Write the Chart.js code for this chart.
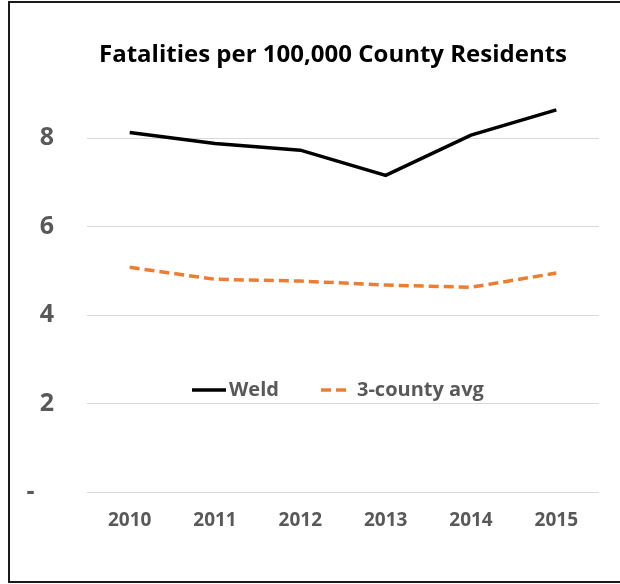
<!DOCTYPE html>
<html>
<head>
<meta charset="utf-8">
<script src="https://cdn.jsdelivr.net/npm/chart.js@4/dist/chart.umd.min.js"></script>
<style>
  html, body { margin: 0; padding: 0; background: #fff; }
  #wrap { position: relative; width: 620px; height: 584px; overflow: hidden; }
  #frame {
    position: absolute; left: 8px; top: 1px; width: 640px; height: 578px;
    border: 2px solid #1a1a1a; pointer-events: none;
  }
  canvas { position: absolute; left: 0; top: 0; }
</style>
</head>
<body>
<div id="wrap">
  <canvas id="chart" width="620" height="584"></canvas>
  <div id="frame"></div>
</div>
<script>
// Chart data
const years = ['2010', '2011', '2012', '2013', '2014', '2015'];
const weld = [8.13, 7.88, 7.73, 7.16, 8.07, 8.64];
const countyAvg = [5.08, 4.81, 4.77, 4.68, 4.63, 4.95];
const yTicks = [0, 2, 4, 6, 8];

const chartTitle = 'Fatalities per 100,000 County Residents';
const FONT = '"Open Sans", Lato, sans-serif';
const LABEL_GRAY = '#595959';

/**
 * Title and in-plot legend, drawn the way the spreadsheet lays them out
 */
const decorPlugin = {
    id: 'decor',
    afterDraw(chart) {
        const ctx = chart.ctx;
        ctx.save();

        // Title
        ctx.fillStyle = '#000';
        ctx.font = `bold 24px ${FONT}`;
        ctx.textAlign = 'center';
        ctx.textBaseline = 'alphabetic';
        ctx.fillText(chartTitle, 333, 62);

        // Legend, sitting inside the plot above the "2" gridline
        const legendY = 390;
        ctx.font = `bold 20px ${FONT}`;
        ctx.textAlign = 'left';
        ctx.textBaseline = 'middle';
        const items = [
            { ds: chart.data.datasets[0], x0: 192, x1: 226, tx: 229 },
            { ds: chart.data.datasets[1], x0: 321, x1: 348, tx: 357 }
        ];
        items.forEach(item => {
            ctx.beginPath();
            ctx.strokeStyle = item.ds.borderColor;
            ctx.lineWidth = item.ds.borderWidth;
            ctx.setLineDash(item.ds.borderDash || []);
            ctx.moveTo(item.x0, legendY);
            ctx.lineTo(item.x1, legendY);
            ctx.stroke();
            ctx.setLineDash([]);
            ctx.fillStyle = LABEL_GRAY;
            ctx.fillText(item.ds.label, item.tx, legendY);
        });

        ctx.restore();
    }
};

new Chart(document.getElementById('chart').getContext('2d'), {
    type: 'line',
    data: {
        labels: years,
        datasets: [
            {
                label: 'Weld',
                data: weld,
                borderColor: '#000000',
                borderWidth: 3.5,
                pointRadius: 0,
                tension: 0,
                fill: false
            },
            {
                label: '3-county avg',
                data: countyAvg,
                borderColor: '#ED7D31',
                borderWidth: 3.5,
                borderDash: [10, 5],
                pointRadius: 0,
                tension: 0,
                fill: false
            }
        ]
    },
    options: {
        responsive: false,
        animation: false,
        devicePixelRatio: 1,
        layout: { padding: { top: 94, right: 21, bottom: 0, left: 0 } },
        plugins: {
            legend: { display: false },
            title: { display: false },
            tooltip: { enabled: false }
        },
        scales: {
            x: {
                offset: true,
                grid: { display: false, drawTicks: false },
                border: { display: false },
                ticks: {
                    color: LABEL_GRAY,
                    font: { family: FONT, size: 19, weight: 'bold' },
                    padding: 17,
                    maxRotation: 0
                },
                afterFit(scale) { scale.height = 92; }
            },
            y: {
                min: 0,
                max: 9,
                afterBuildTicks(scale) {
                    scale.ticks = yTicks.map(v => ({ value: v }));
                },
                grid: { color: '#d9d9d9', lineWidth: 1, drawTicks: false },
                border: { display: false },
                ticks: {
                    color: LABEL_GRAY,
                    font: { family: FONT, size: 25, weight: 'bold' },
                    padding: 33,
                    callback: v => (v === 0 ? '-   ' : String(v))
                },
                afterFit(scale) { scale.width = 87; }
            }
        }
    },
    plugins: [decorPlugin]
});
</script>
</body>
</html>
